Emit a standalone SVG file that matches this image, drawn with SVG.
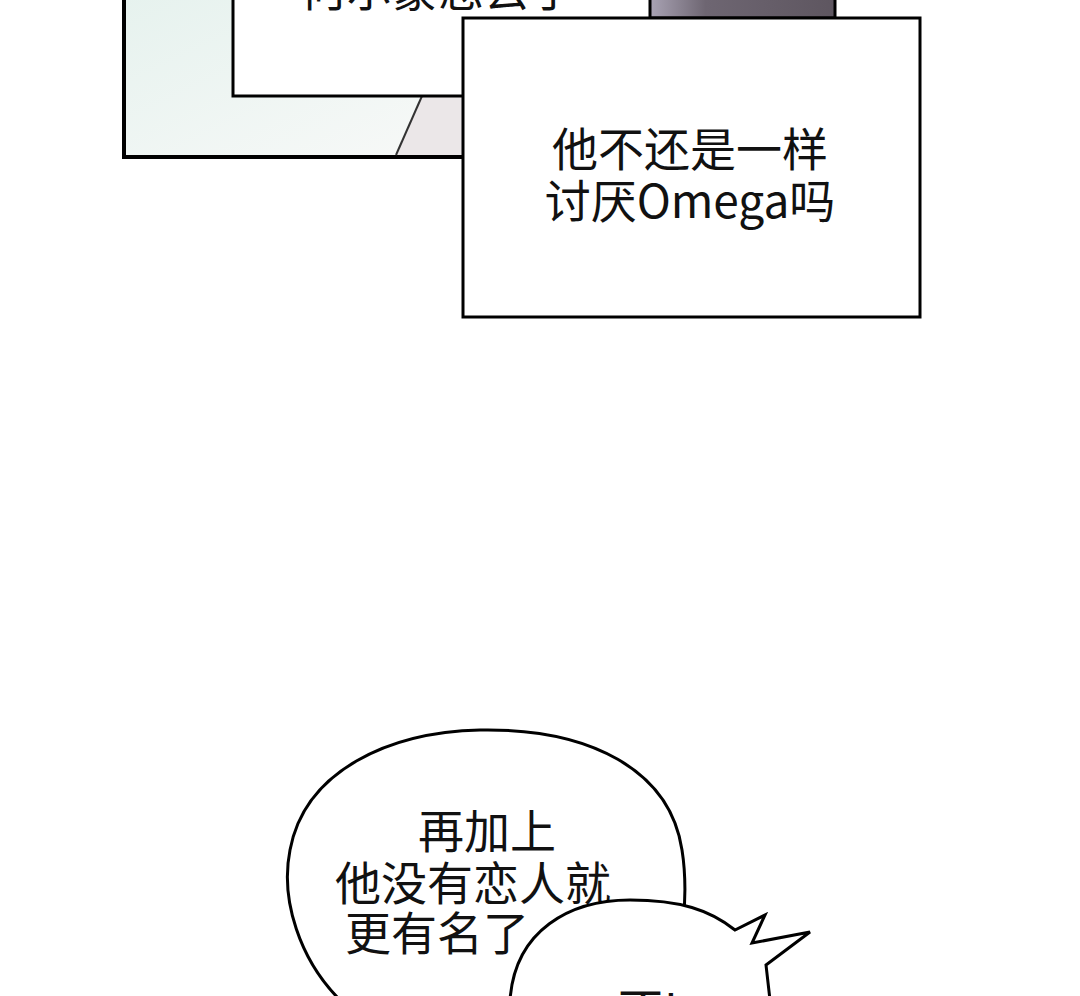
<svg xmlns="http://www.w3.org/2000/svg" width="1080" height="996" viewBox="0 0 1080 996">
<defs>
<linearGradient id="g1" x1="0" y1="0" x2="1" y2="1"><stop offset="0" stop-color="#e6f2ee"/><stop offset="1" stop-color="#f8f9f8"/></linearGradient>
<linearGradient id="g2" x1="0" y1="0" x2="1" y2="0"><stop offset="0" stop-color="#a9a3b4"/><stop offset="0.3" stop-color="#6e6672"/><stop offset="1" stop-color="#5e5660"/></linearGradient>
<style>
.ln{fill:#fff;stroke:#000;stroke-width:3}
.t{font-family:"Noto Sans CJK SC","Noto Sans",sans-serif;font-size:46px;fill:#111;text-anchor:middle}
</style>
</defs>
<rect width="1080" height="996" fill="#fff"/>
<g id="panel">
<rect x="124" y="-5" width="339" height="162" fill="url(#g1)" stroke="#000" stroke-width="4"/>
<polygon points="422,96 463,96 463,155 396,155" fill="#ebe7e8"/>
<line x1="422" y1="96" x2="396" y2="155" stroke="#333" stroke-width="2"/>
<rect x="233" y="-10" width="418" height="106" fill="#fff" stroke="#000" stroke-width="3"/>
<rect x="650" y="-5" width="185" height="23" fill="url(#g2)" stroke="#000" stroke-width="3"/>
</g>
<g id="caption-top"><text class="t" x="438" y="6">何尔蒙恋去了</text></g>
<g id="caption">
<rect x="463" y="18" width="457" height="299" class="ln"/>
<text class="t" x="690" y="166">他不还是一样</text>
<text class="t" x="690" y="218">讨厌Omega吗</text>
</g>
<g id="bubble1">
<path class="ln" d="M340,1000 C300,960 280,900 290,850 C305,770 390,732 480,730 C590,728 670,770 682,850 C690,900 680,960 670,1000"/>
<text class="t" x="487" y="848">再加上</text>
<text class="t" x="473" y="900">他没有恋人就</text>
<text class="t" x="437" y="950">更有名了</text>
</g>
<g id="bubble2">
<path class="ln" d="M510,1000 C515,930 570,900 630,900 C680,900 710,910 735,930 L765,915 L752,943 L810,932 L766,965 L770,1000 Z"/>
<text class="t" x="648" y="1027">不!</text>
</g>
</svg>
